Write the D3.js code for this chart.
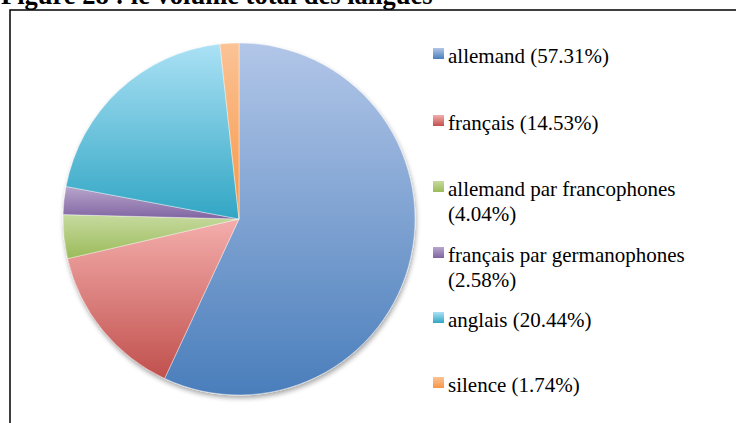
<!DOCTYPE html>
<html>
<head>
<meta charset="utf-8">
<script src="https://cdn.jsdelivr.net/npm/d3@7"></script>
<style>
  body { margin: 0; background: #fff; }
  svg { display: block; }
  text { font-family: "Liberation Serif", "Times New Roman", serif; }
</style>
</head>
<body>
<div id="chart"></div>
<script>
// data
let categories = ["allemand", "français", "allemand par francophones", "français par germanophones", "anglais", "silence"];
let values = [57.31, 14.53, 4.04, 2.58, 20.44, 1.74];
let legendLines = [
    ["allemand (57.31%)"],
    ["français (14.53%)"],
    ["allemand par francophones", "(4.04%)"],
    ["français par germanophones", "(2.58%)"],
    ["anglais (20.44%)"],
    ["silence (1.74%)"]
];
// light (top) / base (bottom) colour of each slice
let lightColors = ["#b2c6e8", "#f4aeac", "#c6da9f", "#b8a6cb", "#abe1f5", "#fbc396"];
let baseColors = ["#4a7ebb", "#c0504d", "#9bbb59", "#8064a2", "#31a6c4", "#f79646"];

let width = 736, height = 423;

let svg = d3.select("#chart").append("svg")
    .attr("width", width)
    .attr("height", height);

let defs = svg.append("defs");

// gradients, one per slice
categories.forEach((c, i) => {
    let g = defs.append("linearGradient")
        .attr("id", "grad" + i)
        .attr("x1", 0).attr("y1", 0)
        .attr("x2", 0).attr("y2", 1);
    g.append("stop").attr("offset", "0%").attr("stop-color", lightColors[i]);
    g.append("stop").attr("offset", "100%").attr("stop-color", baseColors[i]);
});

// soft shadow under the pie
let shadow = defs.append("filter")
    .attr("id", "shadow")
    .attr("x", "-10%").attr("y", "-10%")
    .attr("width", "120%").attr("height", "120%");
shadow.append("feGaussianBlur").attr("in", "SourceAlpha").attr("stdDeviation", 2.5);
shadow.append("feOffset").attr("dx", 1).attr("dy", 3).attr("result", "blur");
shadow.append("feComponentTransfer").append("feFuncA").attr("type", "linear").attr("slope", 0.35);
let merge = shadow.append("feMerge");
merge.append("feMergeNode");
merge.append("feMergeNode").attr("in", "SourceGraphic");

// title (cut off at the top, as in the original)
svg.append("text")
    .attr("x", 1)
    .attr("y", 4)
    .attr("font-weight", "bold")
    .attr("font-size", 26.5)
    .attr("fill", "#000")
    .text("Figure 28 : le volume total des langues");

// frame
svg.append("path")
    .attr("d", "M10," + height + "V10H" + width)
    .attr("fill", "none")
    .attr("stroke", "#000")
    .attr("stroke-width", 1.5);

// pie
let cx = 239, cy = 219, radius = 176;

let pie = d3.pie().sort(null).value(d => d);
let arc = d3.arc().innerRadius(0).outerRadius(radius);

let pieGroup = svg.append("g")
    .attr("transform", "translate(" + cx + "," + cy + ")")
    .attr("filter", "url(#shadow)");

pieGroup.selectAll(".slice")
    .data(pie(values))
    .enter().append("path")
    .attr("class", "slice")
    .attr("d", arc)
    .attr("fill", (d, i) => "url(#grad" + i + ")")
    .attr("stroke", "#fff")
    .attr("stroke-width", 0.4);

// legend
let legendY = [63, 130, 196, 262, 327, 392];
let legend = svg.append("g").attr("class", "legend");

legendLines.forEach((lines, i) => {
    let row = legend.append("g")
        .attr("transform", "translate(433," + legendY[i] + ")");
    row.append("rect")
        .attr("x", 0)
        .attr("y", -15)
        .attr("width", 11)
        .attr("height", 11)
        .attr("fill", "url(#grad" + i + ")");
    lines.forEach((t, j) => {
        row.append("text")
            .attr("x", 15)
            .attr("y", j * 24.5)
            .attr("font-size", 21)
            .attr("fill", "#000")
            .text(t);
    });
});
</script>
</body>
</html>
